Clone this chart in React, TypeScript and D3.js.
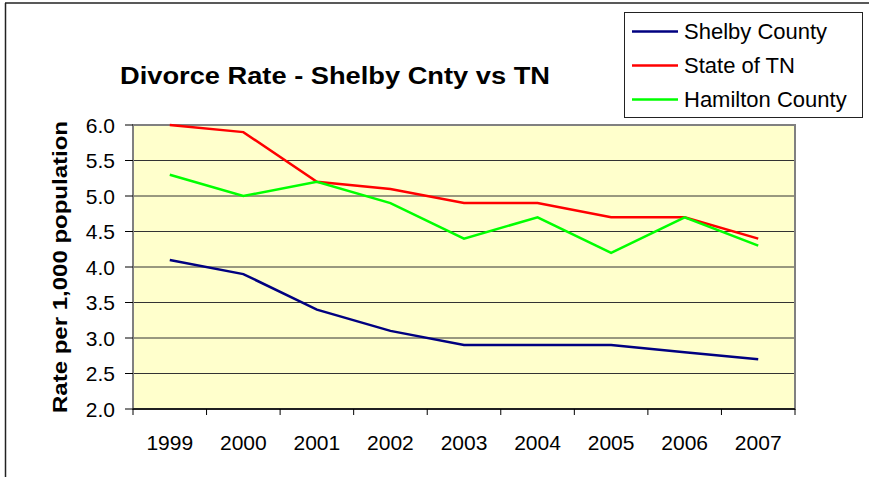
import React from "react";
import * as d3 from "d3";

const years = ["1999", "2000", "2001", "2002", "2003", "2004", "2005", "2006", "2007"];
const shelby = [4.1, 3.9, 3.4, 3.1, 2.9, 2.9, 2.9, 2.8, 2.7];
const stateTN = [6.0, 5.9, 5.2, 5.1, 4.9, 4.9, 4.7, 4.7, 4.4];
const hamilton = [5.3, 5.0, 5.2, 4.9, 4.4, 4.7, 4.2, 4.7, 4.3];
const yTicks = [2.0, 2.5, 3.0, 3.5, 4.0, 4.5, 5.0, 5.5, 6.0];
const seriesNames = ["Shelby County", "State of TN", "Hamilton County"];
const seriesColors = ["#000080", "#FF0000", "#00FF00"];

const W = 869;
const H = 477;
const plot = { left: 133, right: 795, top: 125, bottom: 409 };
const FONT = "'Liberation Sans', Arial, sans-serif";

export default function App() {
  const x = d3.scaleBand<string>().domain(years).range([plot.left, plot.right]).padding(0);
  const y = d3.scaleLinear().domain([2, 6]).range([plot.bottom, plot.top]);
  const line = d3
    .line<number>()
    .x((_, i) => (x(years[i]) as number) + x.bandwidth() / 2)
    .y((d) => y(d));
  const allSeries = [shelby, stateTN, hamilton];
  const boundaries = years.map((yr) => x(yr) as number).concat([plot.right]);

  return (
    <svg
      width={W}
      height={H}
      style={{ position: "absolute", left: 0, top: 0, background: "#fff" }}
      fontFamily={FONT}
    >
      {/* outer chart border (cropped) */}
      <line x1={5.5} y1={3} x2={5.5} y2={H} stroke="#222" strokeWidth={1.5} />
      <line x1={5} y1={3} x2={W} y2={3} stroke="#222" strokeWidth={1.5} />

      {/* plot background */}
      <rect
        x={plot.left}
        y={plot.top}
        width={plot.right - plot.left}
        height={plot.bottom - plot.top}
        fill="#FFFFCC"
      />
      {/* gridlines */}
      {yTicks.map((t) => (
        <line
          key={"g" + t}
          x1={plot.left}
          x2={plot.right}
          y1={y(t)}
          y2={y(t)}
          stroke="#333"
          strokeWidth={1}
        />
      ))}
      {/* plot border */}
      <rect
        x={plot.left}
        y={plot.top}
        width={plot.right - plot.left}
        height={plot.bottom - plot.top}
        fill="none"
        stroke="#808080"
        strokeWidth={2}
      />
      {/* y axis */}
      <line x1={plot.left} x2={plot.left} y1={plot.top} y2={plot.bottom} stroke="#808080" strokeWidth={2} />
      {yTicks.map((t) => (
        <g key={"yt" + t}>
          <line x1={plot.left - 8} x2={plot.left} y1={y(t)} y2={y(t)} stroke="#000" strokeWidth={1} />
          <text x={115} y={y(t)} dy="0.36em" textAnchor="end" fontSize={21} fill="#000">
            {t.toFixed(1)}
          </text>
        </g>
      ))}
      {/* x axis */}
      <line x1={plot.left} x2={plot.right} y1={plot.bottom} y2={plot.bottom} stroke="#000" strokeWidth={1.5} />
      {boundaries.map((b, i) => (
        <line key={"xt" + i} x1={b} x2={b} y1={plot.bottom} y2={plot.bottom + 6} stroke="#000" strokeWidth={1} />
      ))}
      {years.map((yr) => (
        <text
          key={"xl" + yr}
          x={(x(yr) as number) + x.bandwidth() / 2}
          y={442}
          dy="0.36em"
          textAnchor="middle"
          fontSize={21}
          fill="#000"
        >
          {yr}
        </text>
      ))}

      {/* series */}
      {allSeries.map((s, i) => (
        <path key={"s" + i} d={line(s) || ""} fill="none" stroke={seriesColors[i]} strokeWidth={2.5} />
      ))}

      {/* title */}
      <text
        x={335}
        y={76}
        dy="0.36em"
        textAnchor="middle"
        fontSize={23}
        fontWeight="bold"
        fill="#000"
        textLength={430}
        lengthAdjust="spacingAndGlyphs"
      >
        Divorce Rate - Shelby Cnty vs TN
      </text>

      {/* y axis title */}
      <text
        transform={`translate(59,${(plot.top + plot.bottom) / 2}) rotate(-90)`}
        dy="0.36em"
        textAnchor="middle"
        fontSize={21}
        fontWeight="bold"
        fill="#000"
        textLength={292}
        lengthAdjust="spacingAndGlyphs"
      >
        Rate per 1,000 population
      </text>

      {/* legend */}
      <rect x={624.5} y={12.5} width={238} height={105} fill="#fff" stroke="#222" strokeWidth={1} />
      {seriesNames.map((n, i) => (
        <g key={"l" + i}>
          <line x1={632} x2={678} y1={31.5 + i * 34} y2={31.5 + i * 34} stroke={seriesColors[i]} strokeWidth={2.5} />
          <text x={684} y={31.5 + i * 34} dy="0.36em" fontSize={22} fill="#000">
            {n}
          </text>
        </g>
      ))}
    </svg>
  );
}
